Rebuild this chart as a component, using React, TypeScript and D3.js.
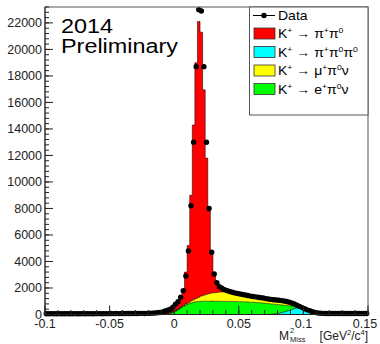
import React from "react";
import * as d3 from "d3";

// Histogram binning: 125 bins of width 0.002 from -0.1 to 0.15
const binLo = -0.1;
const binWidth = 0.002;

const dataCounts = [
  62, 58, 64, 60, 57, 63, 60, 59, 64, 61,
  60, 65, 62, 59, 63, 61, 64, 66, 62, 65,
  67, 63, 66, 68, 64, 70, 67, 72, 69, 71,
  74, 70, 76, 78, 75, 80, 84, 88, 80, 85,
  92, 100, 115, 130, 150, 200, 260, 320, 400, 560,
  780, 970, 1300, 1800, 2900, 4800, 8200, 13000, 18700, 23000,
  22900, 18700, 13000, 8000, 4700, 3060, 2400, 2100, 1980, 1880,
  1800, 1730, 1680, 1630, 1590, 1550, 1510, 1470, 1430, 1390,
  1360, 1330, 1300, 1270, 1240, 1200, 1170, 1140, 1110, 1090,
  1070, 1050, 1020, 980, 930, 870, 790, 700, 610, 520,
  430, 350, 280, 210, 160, 120, 95, 85, 80, 78,
  80, 77, 79, 76, 78, 80, 77, 75, 78, 76,
  79, 77, 75, 78, 76,
];

const mcK3pi = [
  ...Array(86).fill(0),
  10, 20, 40, 70, 100, 140, 190, 250, 310, 370,
  450, 500, 520, 480, 410, 340, 265, 190, 140, 105,
  85, 78, 75, 74, 76, 73, 75, 72, 74, 73, 75, 72, 74, 73, 71, 74, 72, 73, 72,
];

const mcKe3 = [
  ...Array(44).fill(0),
  5, 15, 30, 60, 110, 180, 270, 380, 500, 620,
  720, 800, 870, 920, 960, 980, 1000, 1000, 1005, 1000,
  1010, 1000, 995, 1000, 990, 995, 985, 990, 980, 975,
  970, 965, 955, 950, 940, 930, 920, 905, 890, 875,
  860, 840, 810, 780, 740, 690, 640, 580, 510, 430,
  350, 270, 200, 110, 60, 30, 15, 5, 0, 0,
  ...Array(21).fill(0),
];

const mcKmu3 = [
  ...Array(51).fill(0),
  10, 25, 45, 70, 100, 140, 190, 250, 320, 390,
  460, 520, 570, 610, 640, 670, 690, 705, 715, 715,
  705, 690, 660, 620, 580, 540, 500, 470, 440, 410,
  390, 370, 350, 330, 310, 300, 290, 280, 270, 260,
  240, 220, 200, 170, 140, 100, 60, 20, 10,
  ...Array(25).fill(0),
];

const mcK2pi = [
  55, 52, 57, 54, 51, 56, 54, 53, 57, 55,
  54, 58, 56, 53, 57, 55, 57, 59, 56, 58,
  60, 57, 59, 61, 58, 63, 60, 64, 62, 64,
  66, 63, 68, 70, 67, 72, 75, 78, 75, 80,
  87, 95, 110, 125, 140, 180, 220, 250, 280, 360,
  480, 560, 750, 1100, 2410, 4300, 7990, 13190, 17790, 20800,
  19910, 15490, 10275, 6230, 2980, 1360, 685, 390, 265, 150,
  90, 40, 20, 10, 10, 10, 20, 20, 20, 20,
  30, 30, 40, 40, 50, 50, 50, 50, 50, 60,
  60, 80, 90, 90, 90, 80, 40, 30, 10, 0,
  5, 5, 15, 15, 15, 10, 10, 5, 5, 4,
  3, 4, 3, 4, 3, 4, 3, 4, 3, 4, 3, 4, 3, 4, 3,
];

const xTicks = [-0.1, -0.05, 0, 0.05, 0.1, 0.15];
const xTickLabels = ["-0.1", "-0.05", "0", "0.05", "0.1", "0.15"];
const yTicks = [0, 2000, 4000, 6000, 8000, 10000, 12000, 14000, 16000, 18000, 20000, 22000];

const stackKeys = ["k3pi", "ke3", "kmu3", "k2pi"];
const stackColors: Record<string, string> = {
  k3pi: "#00ffff",
  ke3: "#00ff00",
  kmu3: "#ffff00",
  k2pi: "#ff0000",
};

const legendEntries = [
  { key: "k2pi", label: "K^+ → π^+π^0" },
  { key: "k3pi", label: "K^+ → π^+π^0π^0" },
  { key: "kmu3", label: "K^+ → μ^+π^0ν" },
  { key: "ke3", label: "K^+ → e^+π^0ν" },
];

const FONT = "'Liberation Sans', Arial, Helvetica, sans-serif";

function SupText({ x, y, s, size, sx }: { x: number; y: number; s: string; size: number; sx: number }) {
  const parts: { t: string; sup: boolean }[] = [];
  let i = 0;
  let buf = "";
  while (i < s.length) {
    if (s[i] === "^") {
      if (buf) parts.push({ t: buf, sup: false });
      buf = "";
      parts.push({ t: s[i + 1], sup: true });
      i += 2;
    } else {
      buf += s[i];
      i += 1;
    }
  }
  if (buf) parts.push({ t: buf, sup: false });
  return (
    <text
      transform={`translate(${x},${y}) scale(${sx},1)`}
      fontSize={size}
      fontFamily={FONT}
      fill="#000"
    >
      {parts.map((p, k) =>
        p.sup ? (
          <tspan key={k} fontSize={size * 0.62} dy={-size * 0.38}>
            {p.t}
          </tspan>
        ) : (
          <tspan key={k} dy={k > 0 && parts[k - 1].sup ? size * 0.38 : 0}>
            {p.t}
          </tspan>
        )
      )}
    </text>
  );
}

export default function App() {
  const W = 380;
  const H = 344;
  const left = 45;
  const right = 368;
  const top = 7;
  const bottom = 314.5;

  const x = d3.scaleLinear().domain([-0.1, 0.15]).range([left, right]);
  const y = d3.scaleLinear().domain([0, 23200]).range([bottom, top]);

  const n = dataCounts.length;
  const rows = d3.range(n).map((i) => ({
    i,
    k3pi: mcK3pi[i],
    ke3: mcKe3[i],
    kmu3: mcKmu3[i],
    k2pi: mcK2pi[i],
  }));
  const stacked = d3.stack<any>().keys(stackKeys)(rows);

  const edge = (i: number) => binLo + i * binWidth;

  const area = d3
    .area<any>()
    .x((d) => x(d.x))
    .y0((d) => y(d.y0))
    .y1((d) => y(d.y1))
    .curve(d3.curveStepAfter);
  const line = d3
    .line<any>()
    .x((d) => x(d.x))
    .y((d) => y(d.y1))
    .curve(d3.curveStepAfter);

  const layers = stacked.map((s) => {
    const pts = s.map((d, i) => ({ x: edge(i), y0: d[0], y1: d[1] }));
    const last = s[s.length - 1];
    pts.push({ x: edge(n), y0: last[0], y1: last[1] });
    return { key: s.key, pts };
  });

  const xMinor = d3.range(-0.1, 0.1501, 0.01);
  const yMinor = d3.range(0, 23201, 400);

  return (
    <svg
      width={W}
      height={H}
      style={{ position: "fixed", left: 0, top: 0, background: "#fff" }}
    >
      <rect x={0} y={0} width={W} height={H} fill="#fff" />
      <defs>
        <clipPath id="plotclip">
          <rect x={left} y={top} width={right - left} height={bottom - top} />
        </clipPath>
      </defs>
      <g clipPath="url(#plotclip)">
        {layers.map((l) => (
          <path key={l.key} d={area(l.pts) || ""} fill={stackColors[l.key]} stroke="none" />
        ))}
        {layers.map((l) => (
          <path
            key={l.key + "-line"}
            d={line(l.pts) || ""}
            fill="none"
            stroke="#000"
            strokeOpacity={0.75}
            strokeWidth={0.7}
          />
        ))}
      </g>
      {/* data points */}
      <g>
        {dataCounts.map((v, i) => {
          const cx = x(edge(i) + binWidth / 2);
          const cy = y(v);
          const e = Math.sqrt(v);
          return (
            <g key={i}>
              <line x1={x(edge(i))} x2={x(edge(i + 1))} y1={cy} y2={cy} stroke="#000" strokeWidth={1} />
              <line x1={cx} x2={cx} y1={y(v - e)} y2={y(Math.min(v + e, 23200))} stroke="#000" strokeWidth={1} />
              <circle cx={cx} cy={cy} r={2.7} fill="#000" />
            </g>
          );
        })}
      </g>
      {/* frame */}
      <rect x={left} y={top} width={right - left} height={bottom - top} fill="none" stroke="#555" strokeWidth={1} />
      <line x1={left} x2={left} y1={top} y2={bottom} stroke="#222" strokeWidth={1} />
      <line x1={left} x2={right} y1={bottom} y2={bottom} stroke="#222" strokeWidth={1} />
      {/* x ticks */}
      {xMinor.map((t, k) => (
        <line key={"xm" + k} x1={x(t)} x2={x(t)} y1={bottom} y2={bottom - 4.5} stroke="#222" strokeWidth={1} />
      ))}
      {xTicks.map((t, k) => (
        <g key={"xt" + k}>
          <line x1={x(t)} x2={x(t)} y1={bottom} y2={bottom - 9} stroke="#222" strokeWidth={1} />
          <text
            x={k === xTicks.length - 1 ? x(t) - 3 : x(t)}
            y={328}
            textAnchor="middle"
            fontSize={12.5}
            fontFamily={FONT}
            fill="#222"
          >
            {xTickLabels[k]}
          </text>
        </g>
      ))}
      {/* y ticks */}
      {yMinor.map((t, k) => (
        <line key={"ym" + k} x1={left} x2={left + 4} y1={y(t)} y2={y(t)} stroke="#222" strokeWidth={1} />
      ))}
      {yTicks.map((t, k) => (
        <g key={"yt" + k}>
          <line x1={left} x2={left + 8} y1={y(t)} y2={y(t)} stroke="#222" strokeWidth={1} />
          <text
            x={42}
            y={y(t) + 4.5}
            textAnchor="end"
            fontSize={12.5}
            fontFamily={FONT}
            fill="#222"
          >
            {String(t)}
          </text>
        </g>
      ))}
      {/* axis title */}
      <text x={279} y={339.5} fontSize={12} fontFamily={FONT} fill="#222">M</text>
      <text x={290} y={333} fontSize={7.5} fontFamily={FONT} fill="#222">2</text>
      <text x={290} y={342} fontSize={7.5} fontFamily={FONT} fill="#222">Miss</text>
      <text x={368} y={339.5} textAnchor="end" fontSize={12} fontFamily={FONT} fill="#222">
        [GeV
        <tspan fontSize={7.5} dy={-5}>2</tspan>
        <tspan dy={5}>/c</tspan>
        <tspan fontSize={7.5} dy={-5}>4</tspan>
        <tspan dy={5}>]</tspan>
      </text>
      {/* 2014 Preliminary */}
      <text transform="translate(61,33) scale(1.2,1)" fontSize={19.5} fontFamily={FONT} fill="#000">2014</text>
      <text transform="translate(61,53) scale(1.2,1)" fontSize={19.5} fontFamily={FONT} fill="#000">Preliminary</text>
      {/* legend */}
      <rect x={249.5} y={top} width={right - 249.5} height={115 - top} fill="#fff" stroke="#555" strokeWidth={1} />
      <line x1={253} x2={275} y1={15.5} y2={15.5} stroke="#000" strokeWidth={1} />
      <circle cx={264} cy={15.5} r={2.7} fill="#000" />
      <text transform="translate(278,20) scale(1.12,1)" fontSize={12.5} fontFamily={FONT} fill="#000">Data</text>
      {legendEntries.map((e, k) => {
        const cy = 33.5 + k * 18.5;
        return (
          <g key={e.key}>
            <rect x={254} y={cy - 5.5} width={21} height={11} fill={stackColors[e.key]} stroke="#333" strokeWidth={0.8} />
            <SupText x={278} y={cy + 4.5} s={e.label} size={12.5} sx={1.12} />
          </g>
        );
      })}
    </svg>
  );
}
